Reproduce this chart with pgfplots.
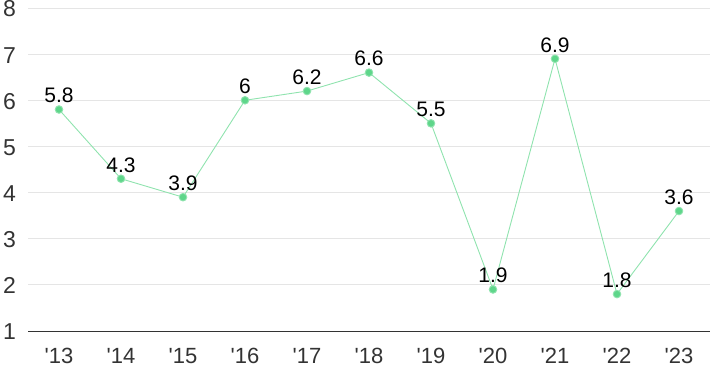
\documentclass[border=0pt]{standalone}
\usepackage{fontspec}
\setmainfont{Liberation Sans}
\usepackage{pgfplots}
\pgfplotsset{compat=1.18}
\definecolor{linegreen}{HTML}{8FE3AE}
\definecolor{dotgreen}{HTML}{5ED68A}
\definecolor{gridgray}{HTML}{E5E5E5}
\definecolor{ticktext}{HTML}{333333}
\newcommand{\q}{\textquotesingle}
\begin{document}
\begin{tikzpicture}[x=1bp,y=1bp]
\begin{axis}[
  at={(28bp,40bp)}, anchor=south west,
  scale only axis, width=682bp, height=323bp,
  xmin=-0.5, xmax=10.5, ymin=1, ymax=8,
  xtick={0,...,10},
  xticklabels={\q13,\q14,\q15,\q16,\q17,\q18,\q19,\q20,\q21,\q22,\q23},
  ytick={1,...,8},
  major tick length=0pt,
  axis line style={draw=none},
  axis x line*=bottom, axis y line*=left,
  ymajorgrids, grid style={gridgray, line width=0.9bp},
  /pgf/number format/assume math mode=true,
  yticklabel style={anchor=east, inner sep=0pt, xshift=-12bp, yshift=-1bp, font=\fontsize{23bp}{24bp}\selectfont, text=ticktext},
  xticklabel style={anchor=north, inner sep=0pt, yshift=-17bp, font=\fontsize{22bp}{24bp}\selectfont, text=ticktext},
  clip=false,
  nodes near coords,
  nodes near coords style={font=\fontsize{21bp}{22bp}\selectfont, text=black, anchor=south, inner sep=0pt, yshift=6bp},
  point meta=explicit symbolic,
]
\addplot[draw=none, forget plot] coordinates {(-0.5,8)};
\draw[ticktext, line width=1bp] (axis cs:-0.5,1) -- (axis cs:10.5,1);
\addplot[color=linegreen, line width=0.9bp, mark=*, mark size=3.8bp,
  mark options={draw=none, fill=dotgreen}]
  coordinates {
  (0,5.8) [5.8]
  (1,4.3) [4.3]
  (2,3.9) [3.9]
  (3,6) [6]
  (4,6.2) [6.2]
  (5,6.6) [6.6]
  (6,5.5) [5.5]
  (7,1.9) [1.9]
  (8,6.9) [6.9]
  (9,1.8) [1.8]
  (10,3.6) [3.6]
  };
\end{axis}
\pgfresetboundingbox
\path[use as bounding box] (0,0) rectangle (710bp,371bp);
\end{tikzpicture}
\end{document}
